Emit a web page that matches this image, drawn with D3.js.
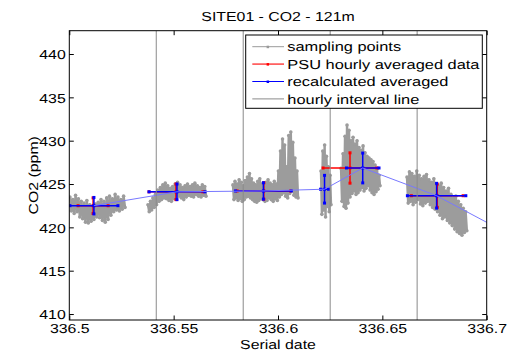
<!DOCTYPE html>
<html><head><meta charset="utf-8">
<script src="https://cdn.jsdelivr.net/npm/d3@7"></script>
<style>
html,body{margin:0;padding:0;background:#fff;}
svg{display:block;font-family:"Liberation Sans",Arial,sans-serif;text-rendering:geometricPrecision;}
</style></head><body>
<svg id="chart" width="511" height="351"></svg>
<script>
// ---- chart text ----
const titleText = "SITE01 - CO2 - 121m";
const xLabel = "Serial date";
const yLabel = "CO2 (ppm)";
const legendLabels = ["sampling points", "PSU hourly averaged data", "recalculated averaged", "hourly interval line"];

// ---- axes ----
const xDomain = [336.5, 336.7];
const yDomain = [409.31, 442.69];
const xTicks = [336.5, 336.55, 336.6, 336.65, 336.7];
const xTickLabels = ["336.5", "336.55", "336.6", "336.65", "336.7"];
const yTicks = [410, 415, 420, 425, 430, 435, 440];
const yTickLabels = ["410", "415", "420", "425", "430", "435", "440"];

// hour boundaries (13:00, 14:00, 15:00, 16:00)
const hourLines = [336.54167, 336.58333, 336.625, 336.66667];

// ---- raw sampling blocks: start / end serial date and CO2 readings ----
const sampleStart = [336.5003, 336.5377, 336.5784, 336.6206, 336.6302, 336.6618];
const sampleEnd   = [336.5267, 336.5655, 336.6096, 336.6254, 336.6489, 336.6905];
const samplesA = [423.5,421.9,423.2,421.6,423.7,421.8,423.3,421.2,423.0,421.0,422.8,420.6,423.1,420.5,422.6,420.7,422.4,420.9,422.7,421.2,
                  422.9,421.1,423.2,420.8,423.0,420.6,423.4,420.9,423.6,421.4,423.3,421.8,423.8,422.0,423.5,421.9,423.2,422.1,423.6,422.3];
const samplesB = [422.6,421.8,423.0,422.0,423.4,422.3,423.8,422.6,424.3,423.0,424.6,423.2,424.9,423.4,425.1,423.3,424.8,423.1,424.5,423.0,
                  424.7,423.3,425.0,423.5,425.2,423.6,424.9,423.4,424.6,423.2,424.8,423.5,425.0,423.7,424.7,423.6,424.9,423.5,425.1,423.8,
                  424.8,423.6,424.6,423.5,424.9,423.7,424.7,423.6];
const samplesC = [424.9,423.2,425.3,423.4,425.0,423.1,425.5,423.3,425.2,423.0,424.8,423.2,425.4,423.5,425.8,423.6,426.2,423.4,425.6,423.2,
                  425.1,423.0,424.9,422.9,425.3,423.1,425.6,423.3,425.0,423.2,424.8,423.0,425.2,423.1,425.5,423.4,425.1,423.2,424.9,423.0,
                  425.3,423.3,425.0,423.1,426.5,423.5,428.8,423.8,430.2,424.0,429.5,423.6,427.0,423.4,430.6,423.9,431.0,424.2,429.8,423.7,
                  428.0,423.5,426.5,423.4];
const samplesD = [426.5,421.5,428.8,422.0,429.5,421.2,428.2,422.4,427.0,421.8,426.0,422.6];
const samplesE = [426.8,423.0,428.5,422.4,430.5,422.2,431.8,422.8,431.2,423.5,430.0,423.9,430.4,424.2,429.6,423.8,430.0,424.0,429.2,424.3,
                  428.9,424.6,429.4,424.2,428.6,424.5,428.2,424.8,428.0,424.3,427.8,424.0,427.6,423.8,427.2,424.1,426.8,424.4,426.0,424.8];
const samplesF = [425.8,422.8,426.4,423.0,426.2,422.6,425.9,422.9,426.5,423.2,426.0,422.7,425.6,422.5,425.9,422.8,426.1,423.0,425.5,422.6,
                  425.2,422.3,425.6,422.1,425.0,421.8,424.8,421.4,425.1,421.0,424.6,421.2,424.2,420.8,424.5,420.5,423.8,420.2,423.4,419.8,
                  423.6,419.5,423.0,419.3,422.6,419.1,422.2,419.4,421.8,419.6];
const sampleBlocks = [samplesA, samplesB, samplesC, samplesD, samplesE, samplesF];

// ---- PSU hourly averages: centre time, half time span, mean, std ----
const psuTime  = [336.5114, 336.5511, 336.5932, 336.6345, 336.6763];
const psuHalf  = [0.0072, 0.0129, 0.0128, 0.0129, 0.0124];
const psuMean  = [422.5, 424.1, 424.2, 426.85, 423.65];
const psuStd   = [0.9, 0.9, 0.95, 1.75, 1.34];

// ---- recalculated averages ----
const recTime  = [336.5118, 336.5516, 336.5930, 336.6223, 336.6406, 336.6760, 336.7178];
const recHalf  = [0.0115, 0.0134, 0.0134, 0.0019, 0.0078, 0.0140, 0.0100];
const recMean  = [422.5, 424.1, 424.2, 424.4, 426.85, 423.65, 418.3];
const recStd   = [0.95, 0.9, 0.95, 1.6, 1.72, 1.43, 1.5];

// ---- layout ----
const plot = {left: 69.3, right: 486.7, top: 30.7, bottom: 320};
const SX = 1.22;          // horizontal stretch of the text glyphs
const SX_LEGEND = 1.26;
const FONT = 13;
const grayPts = "#9c9c9c";

const svg = d3.select("#chart");
const x = d3.scaleLinear().domain(xDomain).range([plot.left, plot.right]);
const y = d3.scaleLinear().domain(yDomain).range([plot.bottom, plot.top]);

function label(parent, px, py, s, anchor, rot, sx) {
  return parent.append("text")
    .attr("transform", `translate(${px},${py})${rot ? ` rotate(${rot})` : ""} scale(${sx || SX},1)`)
    .attr("text-anchor", anchor)
    .attr("font-size", FONT)
    .attr("fill", "#000")
    .text(s);
}

svg.append("defs").append("clipPath").attr("id", "plotClip")
  .append("rect")
  .attr("x", plot.left).attr("y", plot.top)
  .attr("width", plot.right - plot.left).attr("height", plot.bottom - plot.top);

const body = svg.append("g").attr("clip-path", "url(#plotClip)");

// sampling points: dotted line through every reading
sampleBlocks.forEach((vals, i) => {
  const t = d3.scaleLinear().domain([0, vals.length - 1]).range([sampleStart[i], sampleEnd[i]]);
  const pts = vals.map((v, k) => [t(k), v]);
  body.append("path")
    .attr("d", d3.line().x(d => x(d[0])).y(d => y(d[1]))(pts))
    .attr("fill", "none").attr("stroke", grayPts).attr("stroke-width", 2.4)
    .attr("stroke-linejoin", "round");
  body.append("g").selectAll("circle").data(pts).join("circle")
    .attr("cx", d => x(d[0])).attr("cy", d => y(d[1])).attr("r", 1.8)
    .attr("fill", grayPts);
});

// error-bar crosses
function crosses(times, half, mean, std, color) {
  const g = body.append("g");
  times.forEach((t, i) => {
    const v = mean[i];
    g.append("line").attr("x1", x(t - half[i])).attr("x2", x(t + half[i]))
      .attr("y1", y(v)).attr("y2", y(v)).attr("stroke", color).attr("stroke-width", 1.5);
    g.append("line").attr("x1", x(t)).attr("x2", x(t))
      .attr("y1", y(v - std[i])).attr("y2", y(v + std[i])).attr("stroke", color).attr("stroke-width", 1.5);
    const marks = [[t, v], [t - half[i], v], [t + half[i], v], [t, v - std[i]], [t, v + std[i]]];
    marks.forEach(m => g.append("rect")
      .attr("x", x(m[0]) - 1.5).attr("y", y(m[1]) - 1.5)
      .attr("width", 3).attr("height", 3).attr("fill", color));
  });
}
crosses(psuTime, psuHalf, psuMean, psuStd, "#ff0000");
crosses(recTime, recHalf, recMean, recStd, "#0000ff");

// connecting line through the recalculated averages
body.append("path")
  .attr("d", d3.line().x((d, i) => x(recTime[i])).y(d => y(d))(recMean))
  .attr("fill", "none").attr("stroke", "#7878ff").attr("stroke-width", 1);

// hourly interval lines
body.append("g").selectAll("line").data(hourLines).join("line")
  .attr("x1", d => x(d)).attr("x2", d => x(d))
  .attr("y1", plot.top).attr("y2", plot.bottom)
  .attr("stroke", "#8a8a8a").attr("stroke-width", 1);

// ---- axes (ticks point inward, mirrored on top/right) ----
const TK = 4.5;
function styleAxis(g) {
  g.select(".domain").remove();
  g.selectAll(".tick line").attr("stroke", "#000");
}
const xAxis = svg.append("g").attr("transform", `translate(0,${plot.bottom})`)
  .call(d3.axisBottom(x).tickValues(xTicks).tickFormat((d, i) => xTickLabels[i]).tickSize(-TK).tickPadding(4.2));
styleAxis(xAxis);
xAxis.selectAll("text").attr("font-size", FONT).attr("fill", "#000")
  .attr("font-family", '"Liberation Sans",Arial,sans-serif')
  .attr("transform", `scale(${SX},1)`);

const yAxis = svg.append("g").attr("transform", `translate(${plot.left},0)`)
  .call(d3.axisLeft(y).tickValues(yTicks).tickFormat((d, i) => yTickLabels[i]).tickSize(-TK).tickPadding(0));
styleAxis(yAxis);
yAxis.selectAll(".tick text").attr("font-size", FONT).attr("fill", "#000")
  .attr("font-family", '"Liberation Sans",Arial,sans-serif')
  .attr("x", -3.6 / SX).attr("dy", "0.36em")
  .attr("transform", `scale(${SX},1)`);

const xTop = svg.append("g").attr("transform", `translate(0,${plot.top})`)
  .call(d3.axisTop(x).tickValues(xTicks).tickFormat("").tickSize(-TK));
styleAxis(xTop);
const yRight = svg.append("g").attr("transform", `translate(${plot.right},0)`)
  .call(d3.axisRight(y).tickValues(yTicks).tickFormat("").tickSize(-TK));
styleAxis(yRight);

svg.append("rect")
  .attr("x", plot.left).attr("y", plot.top)
  .attr("width", plot.right - plot.left).attr("height", plot.bottom - plot.top)
  .attr("fill", "none").attr("stroke", "#000").attr("stroke-width", 1);

// ---- titles ----
label(svg, (plot.left + plot.right) / 2, 20.5, titleText, "middle");
label(svg, (plot.left + plot.right) / 2, 348.5, xLabel, "middle");
label(svg, 38, (plot.top + plot.bottom) / 2, yLabel, "middle", -89.99);

// ---- legend ----
const lg = {x: 245.7, y: 35, w: 236.6, h: 73.3, rowY: 46.7, rowStep: 17.4};
const legend = svg.append("g");
legend.append("rect").attr("x", lg.x).attr("y", lg.y).attr("width", lg.w).attr("height", lg.h)
  .attr("fill", "#fff").attr("stroke", "#000").attr("stroke-width", 1);
const legendStyle = [
  {color: "#9a9a9a", marker: true, w: 1},
  {color: "#ff5050", marker: true, w: 1.6},
  {color: "#0000ff", marker: true, w: 1},
  {color: "#8a8a8a", marker: false, w: 1}
];
legendLabels.forEach((s, i) => {
  const cy = lg.rowY + i * lg.rowStep;
  const st = legendStyle[i];
  legend.append("line").attr("x1", 252.3).attr("x2", 284).attr("y1", cy).attr("y2", cy)
    .attr("stroke", st.color).attr("stroke-width", st.w);
  if (st.marker) {
    legend.append("rect").attr("x", 266.6).attr("y", cy - 1).attr("width", 2.5).attr("height", 2.5)
      .attr("fill", i === 1 ? "#ff0000" : st.color);
  }
  label(legend, 287.3, cy + 4.7, s, "start", 0, SX_LEGEND);
});
</script>
</body></html>
